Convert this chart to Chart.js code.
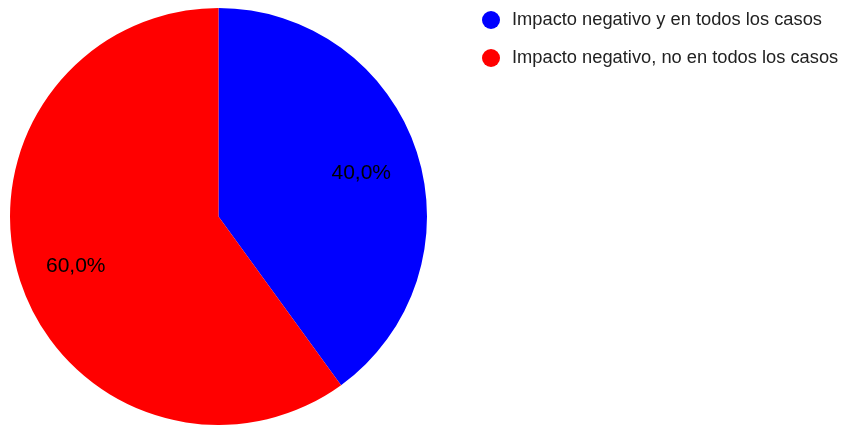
<!DOCTYPE html>
<html>
<head>
<meta charset="utf-8">
<script src="https://cdn.jsdelivr.net/npm/chart.js@4"></script>
<style>
  html, body { margin: 0; padding: 0; background: #fff; }
  #wrap { width: 842px; height: 425px; position: relative; }
</style>
</head>
<body>
<div id="wrap"><canvas id="pieChart"></canvas></div>
<script>
const labels = ["Impacto negativo y en todos los casos", "Impacto negativo, no en todos los casos"];
const values = [40, 60];
const colors = ["#0000ff", "#ff0000"];

const FONT = "'Liberation Sans', Arial, sans-serif";

// percentage text inside each slice
const sliceLabels = {
  id: "sliceLabels",
  afterDatasetsDraw(chart) {
    const ctx = chart.ctx;
    const total = values.reduce((a, b) => a + b, 0);
    ctx.save();
    ctx.font = "21px " + FONT;
    ctx.fillStyle = "#000";
    ctx.textAlign = "center";
    ctx.textBaseline = "middle";
    chart.getDatasetMeta(0).data.forEach((arc, i) => {
      const mid = (arc.startAngle + arc.endAngle) / 2;
      const r = arc.outerRadius * 0.72;
      const x = arc.x + Math.cos(mid) * r;
      const y = arc.y + Math.sin(mid) * r + 3;
      const pct = (values[i] / total * 100).toFixed(1).replace(".", ",") + "%";
      ctx.fillText(pct, x, y);
    });
    ctx.restore();
  }
};

// legend drawn at the top right
const sideLegend = {
  id: "sideLegend",
  afterDraw(chart) {
    const ctx = chart.ctx;
    ctx.save();
    ctx.font = "18.3px " + FONT;
    ctx.textBaseline = "middle";
    ctx.textAlign = "left";
    labels.forEach((txt, i) => {
      const y = 20 + i * 38;
      ctx.beginPath();
      ctx.arc(491, y, 9, 0, Math.PI * 2);
      ctx.fillStyle = colors[i];
      ctx.fill();
      ctx.fillStyle = "#222";
      ctx.fillText(txt, 512, y);
    });
    ctx.restore();
  }
};

new Chart(document.getElementById("pieChart"), {
  type: "pie",
  data: {
    labels: labels,
    datasets: [{ data: values, backgroundColor: colors, borderWidth: 0 }]
  },
  options: {
    responsive: true,
    maintainAspectRatio: false,
    animation: false,
    layout: { padding: { left: 10, right: 415, top: 8, bottom: 0 } },
    plugins: { legend: { display: false }, tooltip: { enabled: false } }
  },
  plugins: [sliceLabels, sideLegend]
});
</script>
</body>
</html>
